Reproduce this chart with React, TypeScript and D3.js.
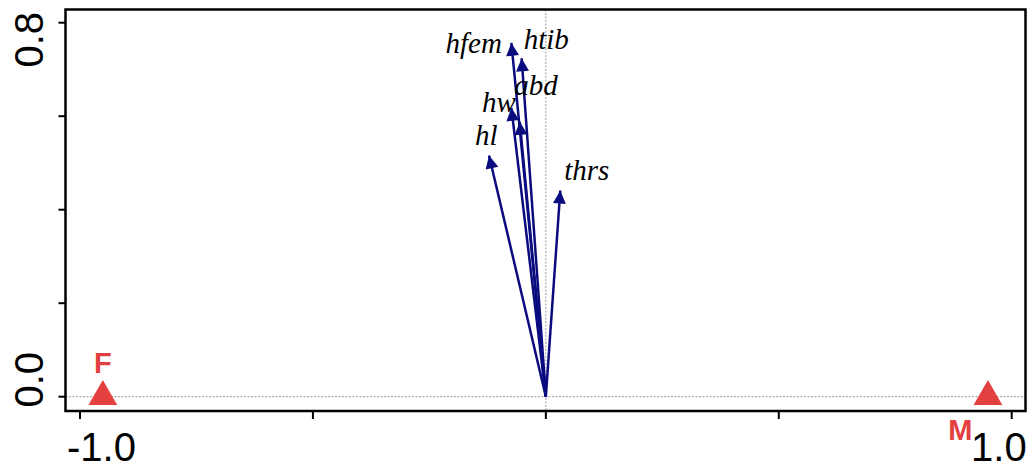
import React, { useEffect, useRef } from 'react';
import * as d3 from 'd3';

// biplot arrows (species scores)
const vars = ['hfem', 'htib', 'abd', 'hw', 'hl', 'thrs'];
const arrowX = [-0.074, -0.052, -0.056, -0.074, -0.122, 0.031];
const arrowY = [0.757, 0.724, 0.588, 0.618, 0.516, 0.441];
// label centres, as R placed them
const labelX = [-0.155, 0.001, -0.021, -0.101, -0.128, 0.088];
const labelY = [0.754, 0.764, 0.664, 0.628, 0.557, 0.482];

// group centroids
const groups = ['F', 'M'];
const groupX = [-0.951, 0.949];
const groupY = [0, 0];

const xTicks = [-1, -0.5, 0, 0.5, 1];
const yTicks = [0, 0.2, 0.4, 0.6, 0.8];
const xTickLabels = ['-1.0', '', '', '', '1.0'];
const yTickLabels = ['0.0', '', '', '', '0.8'];

const App = () => {
  const ref = useRef<SVGSVGElement>(null);

  useEffect(() => {
    const width = 1029;
    const height = 470;
    const box = { left: 65.5, right: 1025.5, top: 9.5, bottom: 411 };

    const svg = d3.select(ref.current);
    svg.selectAll('*').remove();
    svg.attr('width', width).attr('height', height);

    const x = d3.scaleLinear().domain([-1, 1]).range([80, 1011.7]);
    const y = d3.scaleLinear().domain([0, 0.8]).range([396.7, 22.7]);

    const navy = '#0b0b80';
    const red = '#e34040';

    svg.append('defs').append('marker')
      .attr('id', 'head')
      .attr('viewBox', '0 0 10 10')
      .attr('refX', 10)
      .attr('refY', 5)
      .attr('markerUnits', 'userSpaceOnUse')
      .attr('markerWidth', 17)
      .attr('markerHeight', 13)
      .attr('orient', 'auto')
      .append('path')
      .attr('d', 'M0,0 L10,5 L0,10 Z')
      .attr('fill', navy);

    // dotted zero lines
    svg.append('line')
      .attr('x1', box.left).attr('x2', box.right)
      .attr('y1', y(0)).attr('y2', y(0))
      .attr('stroke', '#999').attr('stroke-width', 1).attr('stroke-dasharray', '2,1.5');
    svg.append('line')
      .attr('x1', x(0)).attr('x2', x(0))
      .attr('y1', box.top).attr('y2', box.bottom)
      .attr('stroke', '#999').attr('stroke-width', 1).attr('stroke-dasharray', '2,1.5');

    // arrows
    svg.selectAll('line.arrow')
      .data(vars)
      .enter()
      .append('line')
      .attr('class', 'arrow')
      .attr('x1', x(0))
      .attr('y1', y(0))
      .attr('x2', (d, i) => x(arrowX[i]))
      .attr('y2', (d, i) => y(arrowY[i]))
      .attr('stroke', navy)
      .attr('stroke-width', 2.5)
      .attr('marker-end', 'url(#head)');

    svg.selectAll('text.var')
      .data(vars)
      .enter()
      .append('text')
      .attr('class', 'var')
      .attr('x', (d, i) => x(labelX[i]))
      .attr('y', (d, i) => y(labelY[i]) + 9)
      .attr('text-anchor', 'middle')
      .attr('font-family', '"Liberation Serif", "DejaVu Serif", serif')
      .attr('font-style', 'italic')
      .attr('font-size', 29)
      .attr('fill', '#000')
      .text(d => d);

    // group triangles
    const tri = d3.symbol().type(d3.symbolTriangle).size(360);
    svg.selectAll('path.grp')
      .data(groups)
      .enter()
      .append('path')
      .attr('class', 'grp')
      .attr('transform', (d, i) => `translate(${x(groupX[i])},${y(groupY[i])})`)
      .attr('d', tri)
      .attr('fill', red);

    // group labels: F above, M below
    const grpOffset = [[0, -24], [-27.5, 43]];
    svg.selectAll('text.grp')
      .data(groups)
      .enter()
      .append('text')
      .attr('class', 'grp')
      .attr('x', (d, i) => x(groupX[i]) + grpOffset[i][0])
      .attr('y', (d, i) => y(groupY[i]) + grpOffset[i][1])
      .attr('text-anchor', 'middle')
      .attr('font-family', '"Liberation Sans", Arial, sans-serif')
      .attr('font-weight', 'bold')
      .attr('font-size', 29)
      .attr('fill', red)
      .text(d => d);

    // box
    svg.append('rect')
      .attr('x', box.left).attr('y', box.top)
      .attr('width', box.right - box.left).attr('height', box.bottom - box.top)
      .attr('fill', 'none').attr('stroke', '#000').attr('stroke-width', 2.5);

    // x axis ticks
    svg.selectAll('line.xt')
      .data(xTicks)
      .enter()
      .append('line')
      .attr('x1', d => x(d)).attr('x2', d => x(d))
      .attr('y1', box.bottom).attr('y2', box.bottom + 8)
      .attr('stroke', '#000').attr('stroke-width', 2);
    svg.selectAll('text.xt')
      .data(xTicks)
      .enter()
      .append('text')
      .attr('x', (d, i) => x(d) + (i === 0 ? -13 : 15))
      .attr('y', 461)
      .attr('text-anchor', (d, i) => (i === 0 ? 'start' : 'end'))
      .attr('font-family', '"Liberation Sans", Arial, sans-serif')
      .attr('font-size', 40)
      .attr('fill', '#000')
      .text((d, i) => xTickLabels[i]);

    // y axis ticks
    svg.selectAll('line.yt')
      .data(yTicks)
      .enter()
      .append('line')
      .attr('x1', box.left - 7).attr('x2', box.left)
      .attr('y1', d => y(d)).attr('y2', d => y(d))
      .attr('stroke', '#000').attr('stroke-width', 2);
    // end labels are pushed inward so they stay inside the figure
    svg.selectAll('text.yt')
      .data(yTicks)
      .enter()
      .append('text')
      .attr('transform', (d, i) => `translate(43,${y(d) + (i === 0 ? -17 : 17)}) rotate(-90)`)
      .attr('text-anchor', 'middle')
      .attr('font-family', '"Liberation Sans", Arial, sans-serif')
      .attr('font-size', 40)
      .attr('fill', '#000')
      .text((d, i) => yTickLabels[i]);
  }, []);

  return (
    <svg ref={ref} style={{ position: 'absolute', left: 0, top: 0, background: '#fff' }}></svg>
  );
};

export default App;
